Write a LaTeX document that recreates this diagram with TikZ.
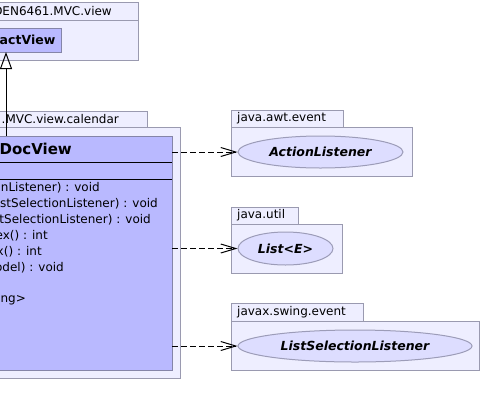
\documentclass[tikz,border=0pt]{standalone}
\usepackage{fontspec}
\setmainfont{DejaVu Sans}
\usetikzlibrary{shapes.geometric,arrows.meta}
\definecolor{pkgfill}{HTML}{EEEEFF}
\definecolor{pkgborder}{HTML}{9A9AB0}
\definecolor{clsfill}{HTML}{B9B9FF}
\definecolor{clsborder}{HTML}{8585A8}
\definecolor{ellfill}{HTML}{DDDDFF}
\definecolor{ellborder}{HTML}{9C9CB8}
\tikzset{
  box/.style={anchor=north west, inner sep=0pt, outer sep=0pt, line width=1pt},
  pkgbox/.style={box, draw=pkgborder, fill=pkgfill},
  clsbox/.style={box, draw=clsborder, fill=clsfill},
  iface/.style={ellipse, draw=ellborder, fill=ellfill, line width=1pt, inner sep=0pt,
     font=\fontsize{12.5}{14}\selectfont\bfseries\itshape},
  lbl/.style={inner sep=0pt, font=\fontsize{12}{14}\selectfont},
  meth/.style={lbl, anchor=east},
  dep/.style={line width=1pt, dash pattern=on 6pt off 3pt, -{Straight Barb[length=15pt,width=9pt,line width=1pt]}},
  inh/.style={line width=1pt, -{Triangle[open,length=17pt,width=12pt,line width=1pt]}}
}
\begin{document}
\begin{tikzpicture}[x=1pt,y=-1pt]
\useasboundingbox (0,0) rectangle (482,416);
\clip (0,0) rectangle (482,416);
% top package
\node[pkgbox, minimum width=158pt, minimum height=18pt] (ptab1) at (-20,2) {};
\node[pkgbox, minimum width=158pt, minimum height=40pt] (pbody1) at (-20,20) {};
\node[lbl, anchor=east] (plbl1) at (112,11) {DEN6461.MVC.view};
\node[clsbox, minimum width=81pt, minimum height=24pt] (abs) at (-20,28) {};
\node[lbl, anchor=east, font=\fontsize{12.5}{14}\selectfont\bfseries] (absname) at (55.5,40) {actView};
% calendar package
\node[pkgbox, minimum width=167pt, minimum height=16pt] (ptab2) at (-20,111) {};
\node[pkgbox, minimum width=200pt, minimum height=251pt] (pbody2) at (-20,127) {};
\node[lbl, anchor=east] (plbl2) at (119,119) {.MVC.view.calendar};
\node[clsbox, minimum width=192pt, minimum height=234pt] (cls) at (-20,136) {};
\draw[line width=1pt] ([yshift=-26pt]cls.north west) -- ([yshift=-26pt]cls.north east);
\draw[line width=1pt] ([yshift=-43pt]cls.north west) -- ([yshift=-43pt]cls.north east);
\node[lbl, anchor=east, font=\fontsize{15}{17}\selectfont\bfseries] (clsname) at (72,149) {DocView};
\node[meth] (m1) at (100,188) {nListener) : void};
\node[meth] (m2) at (158,204) {stSelectionListener) : void};
\node[meth] (m3) at (151,220) {tSelectionListener) : void};
\node[meth] (m4) at (48,236) {ex() : int};
\node[meth] (m5) at (42,252) {x() : int};
\node[meth] (m6) at (64,268) {odel) : void};
\node[meth] (m8) at (26,300) {ng>};
% java.awt.event
\node[pkgbox, minimum width=112pt, minimum height=17pt] (ptab3) at (231,110) {};
\node[pkgbox, minimum width=181pt, minimum height=49pt] (pbody3) at (231,127) {};
\node[lbl, anchor=west] (plbl3) at (237,118.5) {java.awt.event};
\node[iface, minimum width=165pt, minimum height=32pt] (al) at (320.5,152) {ActionListener};
% java.util
\node[pkgbox, minimum width=67pt, minimum height=17pt] (ptab4) at (231,207) {};
\node[pkgbox, minimum width=111pt, minimum height=49pt] (pbody4) at (231,224) {};
\node[lbl, anchor=west] (plbl4) at (237,215.5) {java.util};
\node[iface, minimum width=95pt, minimum height=33pt] (lst) at (285.5,248.5) {List<E>};
% javax.swing.event
\node[pkgbox, minimum width=132pt, minimum height=18pt] (ptab5) at (231,303) {};
\node[pkgbox, minimum width=248pt, minimum height=49pt] (pbody5) at (231,321) {};
\node[lbl, anchor=west] (plbl5) at (237,312) {javax.swing.event};
\node[iface, minimum width=234pt, minimum height=32pt] (lsl) at (355,346) {ListSelectionListener};
% connectors
\coordinate (ix) at (6,0);
\draw[inh] (cls.north -| ix) -- (abs.south -| ix);
\draw[dep] (al.west -| cls.east) -- (al.west);
\draw[dep] (lst.west -| cls.east) -- (lst.west);
\draw[dep] (lsl.west -| cls.east) -- (lsl.west);
\end{tikzpicture}
\end{document}
